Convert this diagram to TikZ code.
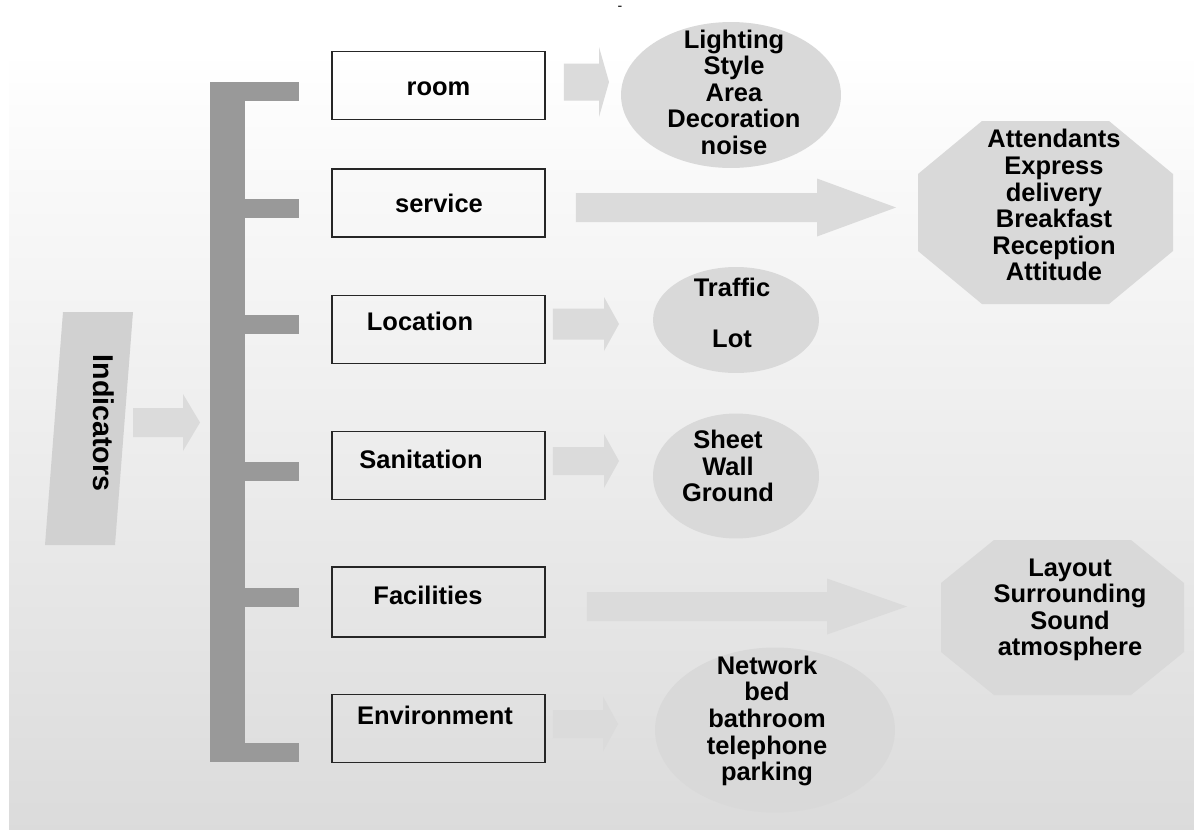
\documentclass[tikz,border=0pt]{standalone}
\usepackage{fontspec}
\setmainfont{Liberation Sans}
\usetikzlibrary{positioning,calc,shapes.geometric}

\newcommand{\octshape}[5]{%
  \fill[octfill] ($(#1)+(-#2+#4,-#3)$) -- ($(#1)+(#2-#4,-#3)$) -- ($(#1)+(#2,-#3+#5)$) -- ($(#1)+(#2,#3-#5)$)
    -- ($(#1)+(#2-#4,#3)$) -- ($(#1)+(-#2+#4,#3)$) -- ($(#1)+(-#2,#3-#5)$) -- ($(#1)+(-#2,-#3+#5)$) -- cycle;}

\tikzset{
  box/.style={draw=black!85,line width=1.1pt,minimum width=4.26cm,minimum height=1.36cm,inner sep=0pt,outer sep=0pt},
  lbl/.style={font=\bfseries\fontsize{14.5}{15.15}\selectfont,inner sep=0pt,align=center},
  oval/.style={ellipse,fill=black!15,inner sep=0pt,outer sep=0pt},
  octfill/.style={fill=black!15},
  bar/.style={fill=black!40},
  blockarrow/.style n args={3}{fill=black!14,
    to path={($(\tikztostart)+(0,-#1)$) -- ($(\tikztotarget)+(-#3,-#1)$) -- ($(\tikztotarget)+(-#3,-#2)$)
      -- (\tikztotarget) -- ($(\tikztotarget)+(-#3,#2)$) -- ($(\tikztotarget)+(-#3,#1)$) -- ($(\tikztostart)+(0,#1)$) -- cycle}}
}

\begin{document}
\begin{tikzpicture}[x=0.02cm,y=-0.02cm]
  \useasboundingbox (0,0) rectangle (1194,829);
  \fill[white] (0,0) rectangle (1194,829);
  \shade[top color=white,bottom color=black!14] (9,50) rectangle (1194,829);
  \node[font=\fontsize{8}{8}\selectfont,inner sep=0pt] (dash) at (620,8) {-};

  % bracket
  \fill[bar] (210,82) rectangle (245,762);
  \foreach \y in {91,208,324,471,597.5,752.5}
    \fill[bar] (245,\y-9.5) rectangle (299,\y+9.5);

  % indicators
  \fill[black!18] (63,312) -- (133,312) -- (115,545) -- (45,545) -- cycle;
  \node[lbl,font=\bfseries\fontsize{16.3}{17}\selectfont,rotate=-90] (ind) at (104,423) {Indicators};
  \coordinate (indA) at (133,422.5);
  \coordinate (indB) at (200,422.5);
  \fill[blockarrow={14.5}{28.5}{17}] (indA) to (indB);

  % boxes
  \node[box] (room) at (438.5,85.5) {};
  \node[box] (srv) at (438.5,203) {};
  \node[box] (loc) at (438.5,329.5) {};
  \node[box] (san) at (438.5,465.5) {};
  \node[box,minimum height=1.4cm] (fac) at (438.5,602) {};
  \node[box] (env) at (438.5,728.5) {};
  \node[lbl,anchor=base] (roomL) at ($(room)+(0,9.5)$) {room};
  \node[lbl,anchor=base] (srvL) at ($(srv)+(0.5,9)$) {service};
  \node[lbl,anchor=base] (locL) at ($(loc)+(-18.5,0.5)$) {Location};
  \node[lbl,anchor=base] (sanL) at ($(san)+(-17.5,2.5)$) {Sanitation};
  \node[lbl,anchor=base] (facL) at ($(fac)+(-10.5,2)$) {Facilities};
  \node[lbl,anchor=base] (envL) at ($(env)+(-3.5,-4.5)$) {Environment};

  % items
  \node[oval,minimum width=4.4cm,minimum height=2.92cm] (roomE) at (731,95) {};
  \node[lbl] (roomT) at ($(roomE)+(3,-2.8)$) {Lighting\\Style\\Area\\Decoration\\noise};
  \coordinate (srvC) at (1045.5,212.5);
  \octshape{srvC}{127.5}{91.5}{64}{53}
  \node[lbl] (srvT) at ($(srvC)+(8.5,-7.3)$) {Attendants\\Express\\delivery\\Breakfast\\Reception\\Attitude};
  \node[oval,minimum width=3.32cm,minimum height=2.12cm] (locE) at (736,320) {};
  \node[lbl] (locT) at ($(locE)+(-4,-6.8)$) {Traffic\\[0.486cm]Lot};
  \node[oval,minimum width=3.32cm,minimum height=2.5cm] (sanE) at (736,476) {};
  \node[lbl] (sanT) at ($(sanE)+(-8,-9.8)$) {Sheet\\Wall\\Ground};
  \coordinate (facC) at (1062.5,617.5);
  \octshape{facC}{121.5}{77.5}{53}{43}
  \node[lbl] (facT) at ($(facC)+(7.5,-7.6)$) {Layout\\Surrounding\\Sound\\atmosphere};
  \node[oval,minimum width=4.8cm,minimum height=3.3cm] (envE) at (775,730) {};
  \node[lbl] (envT) at ($(envE)+(-8,-9.1)$) {Network\\bed\\bathroom\\telephone\\parking};

  % arrows
  \coordinate (roomA) at ($(room.east)+(19,-3.5)$);
  \coordinate (roomB) at ($(roomE.west)+(-12,-13)$);
  \fill[blockarrow={18.5}{35}{10}] (roomA) to (roomB);
  \coordinate (srvA) at ($(srv.east)+(31,4.5)$);
  \coordinate (srvB) at ($(srvC)+(-149.5,-5)$);
  \fill[blockarrow={14.5}{29}{79}] (srvA) to (srvB);
  \coordinate (locA) at ($(loc.east)+(8,-5.5)$);
  \coordinate (locB) at ($(locE.west)+(-34,4)$);
  \fill[blockarrow={15.5}{27}{15}] (locA) to (locB);
  \coordinate (sanA) at ($(san.east)+(8,-4.5)$);
  \coordinate (sanB) at ($(sanE.west)+(-34,-15)$);
  \fill[blockarrow={14}{27}{15}] (sanA) to (sanB);
  \coordinate (facA) at ($(fac.east)+(42,4.5)$);
  \coordinate (facB) at ($(facC)+(-155.5,-11)$);
  \fill[blockarrow={14.5}{28}{80}] (facA) to (facB);
  \coordinate (envA) at ($(env.east)+(8,-4.5)$);
  \coordinate (envB) at ($(envE.west)+(-37,-6)$);
  \fill[blockarrow={14}{27.5}{15}] (envA) to (envB);
\end{tikzpicture}
\end{document}
